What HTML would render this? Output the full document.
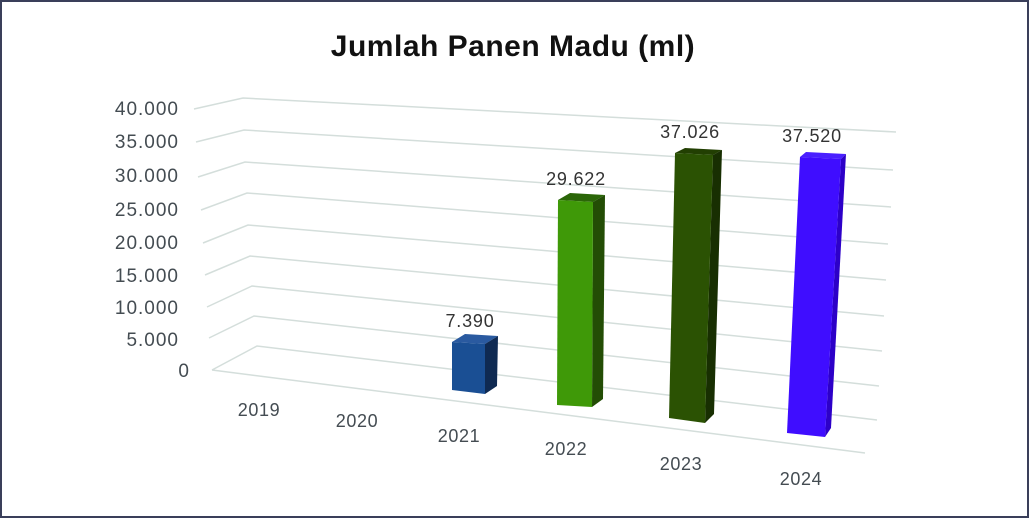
<!DOCTYPE html>
<html><head><meta charset="utf-8"><style>
html,body{margin:0;padding:0;background:#fff}
svg{display:block}
text{font-family:"Liberation Sans",sans-serif}
</style></head><body>
<svg width="1030" height="519" viewBox="0 0 1030 519">
<rect x="1" y="1" width="1027" height="516" fill="#fff" stroke="#3a3f5a" stroke-width="2"/>
<text x="513" y="56" text-anchor="middle" font-size="30" font-weight="bold" fill="#111" letter-spacing="0.5">Jumlah Panen Madu (ml)</text>
<g stroke="#d4dedb" stroke-width="1.5" fill="none">
<polyline points="194,109 243,98 896,132"/>
<polyline points="196,142 244,130 893,170"/>
<polyline points="198,177 245,162 891,207"/>
<polyline points="201,210 247,193 888,244"/>
<polyline points="203,243 248,225 886,280"/>
<polyline points="205,275 250,256 884,316"/>
<polyline points="207,307 252,286 882,351"/>
<polyline points="209,338 254,316 879,386"/>
<polyline points="212,370 257,346 877,420"/>
<line x1="212" y1="370" x2="865" y2="453"/>
</g>
<g font-size="19" fill="#444c52" text-anchor="end" letter-spacing="1">
<text x="179" y="115">40.000</text>
<text x="179" y="148">35.000</text>
<text x="179" y="182">30.000</text>
<text x="179" y="216">25.000</text>
<text x="179" y="249">20.000</text>
<text x="179" y="282">15.000</text>
<text x="179" y="314">10.000</text>
<text x="179" y="346">5.000</text>
<text x="190" y="377">0</text>
</g>
<!-- 2021 -->
<polygon points="452,342 485,344 498,336 465,334" fill="#2a5aa0"/>
<polygon points="485,344 498,336 497,386 485,394" fill="#0f2a52"/>
<polygon points="452,342 485,344 485,394 452,390" fill="#1a4f94"/>
<!-- 2022 -->
<polygon points="558,200 593,202 605,195 570,193" fill="#2b6608"/>
<polygon points="593,202 605,195 603,399 592,407" fill="#234d05"/>
<polygon points="558,200 593,202 592,407 557,405" fill="#3f9908"/>
<!-- 2023 -->
<polygon points="675,153 713,155 722,150 685,148" fill="#223f02"/>
<polygon points="713,155 722,150 714,414 705,423" fill="#182f02"/>
<polygon points="675,153 713,155 705,423 669,418" fill="#2b5203"/>
<!-- 2024 -->
<polygon points="800,157 841,159 846,154 806,152" fill="#4a20ff"/>
<polygon points="841,159 846,154 831,428 825,437" fill="#2d00c8"/>
<polygon points="800,157 841,159 825,437 787,433" fill="#3f0dff"/>
<g font-size="18" fill="#333" text-anchor="middle" letter-spacing="0.8">
<text x="470" y="327">7.390</text>
<text x="576" y="185">29.622</text>
<text x="690" y="138">37.026</text>
<text x="812" y="142">37.520</text>
</g>
<g font-size="18" fill="#444c52" text-anchor="middle" letter-spacing="0.6">
<text x="259" y="416">2019</text>
<text x="357" y="427">2020</text>
<text x="459" y="442">2021</text>
<text x="566" y="455">2022</text>
<text x="681" y="470">2023</text>
<text x="801" y="485">2024</text>
</g>
</svg>
</body></html>
